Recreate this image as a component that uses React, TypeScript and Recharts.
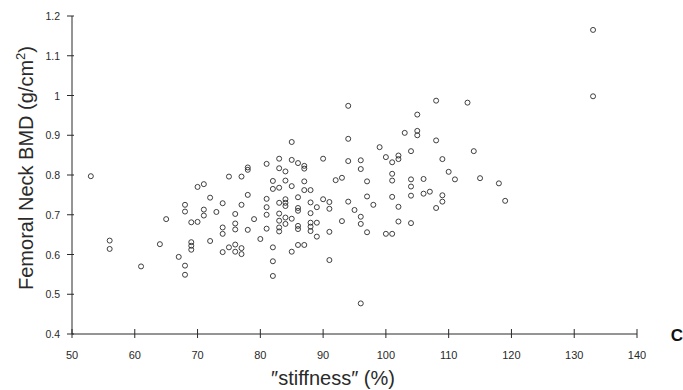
import { Scatter, ScatterChart, XAxis, YAxis } from "recharts";

// stiffness (%) and femoral neck BMD (g/cm2)
const stiffness = [
  53, 56, 56, 61, 64, 65, 67, 68, 68, 68, 68, 69, 69, 69, 69, 70, 71, 70, 71, 71,
  72, 72, 73, 74, 74, 74, 74, 75, 75, 85, 83, 85, 86, 87, 87, 90, 81, 78, 78, 83,
  84, 77, 82, 84, 87, 92, 82, 83, 85, 87, 88, 78, 81, 86, 84, 84, 83, 84, 88, 90,
  91, 77, 81, 86, 86, 89, 91, 76, 81, 83, 88, 79, 83, 84, 85, 76, 76, 78, 81, 83,
  83, 84, 86, 86, 88, 88, 88, 89, 89, 91, 80, 76, 76, 77, 77, 82, 86, 87, 85, 91,
  82, 82, 94, 108, 105, 103, 105, 105, 108, 94, 99, 104, 100, 101, 102, 102, 109, 94, 96, 96,
  93, 97, 101, 101, 104, 104, 106, 104, 106, 107, 109, 109, 94, 97, 98, 101, 102, 95, 108, 93,
  96, 96, 102, 104, 97, 100, 101, 96, 113, 114, 110, 111, 115, 118, 119, 133, 133,
];

const bmd = [
  0.797, 0.635, 0.614, 0.57, 0.626, 0.689, 0.594, 0.725, 0.708, 0.572, 0.549, 0.681, 0.631, 0.622, 0.612, 0.77, 0.777, 0.682, 0.713, 0.698,
  0.743, 0.634, 0.707, 0.729, 0.668, 0.652, 0.606, 0.796, 0.618, 0.883, 0.841, 0.838, 0.83, 0.823, 0.816, 0.841, 0.828, 0.819, 0.813, 0.817,
  0.809, 0.796, 0.785, 0.786, 0.784, 0.787, 0.765, 0.768, 0.772, 0.762, 0.762, 0.75, 0.74, 0.744, 0.739, 0.73, 0.73, 0.722, 0.731, 0.739,
  0.732, 0.725, 0.719, 0.717, 0.71, 0.719, 0.715, 0.702, 0.7, 0.703, 0.704, 0.689, 0.685, 0.693, 0.69, 0.678, 0.663, 0.662, 0.665, 0.668,
  0.658, 0.677, 0.672, 0.664, 0.68, 0.67, 0.659, 0.68, 0.645, 0.657, 0.639, 0.625, 0.607, 0.616, 0.601, 0.618, 0.624, 0.624, 0.607, 0.586,
  0.583, 0.546, 0.974, 0.987, 0.952, 0.906, 0.911, 0.9, 0.887, 0.891, 0.87, 0.86, 0.845, 0.832, 0.849, 0.84, 0.84, 0.835, 0.837, 0.815,
  0.793, 0.784, 0.803, 0.786, 0.789, 0.771, 0.79, 0.748, 0.753, 0.758, 0.749, 0.733, 0.733, 0.746, 0.725, 0.745, 0.72, 0.712, 0.717, 0.684,
  0.695, 0.677, 0.683, 0.679, 0.656, 0.652, 0.652, 0.477, 0.982, 0.86, 0.808, 0.789, 0.792, 0.779, 0.735, 1.165, 0.998,
];

const xTicks = [50, 60, 70, 80, 90, 100, 110, 120, 130, 140];
const yTicks = [0.4, 0.5, 0.6, 0.7, 0.8, 0.9, 1, 1.1, 1.2];

const points = stiffness.map((x, i) => ({ x, y: bmd[i] }));

const ink = "#2a2a2a";
const font = "'Liberation Sans', Arial, sans-serif";

const Ring = (props: any) => (
  <circle cx={props.cx} cy={props.cy} r={2.5} fill="none" stroke={ink} strokeWidth={0.9} />
);

const XTick = ({ x, y, payload }: any) => (
  <g>
    <line x1={x} x2={x} y1={y - 5} y2={y + 4} stroke={ink} strokeWidth={1} />
    <text x={x} y={y + 25} textAnchor="middle" fontSize={11} fill={ink} fontFamily={font}>
      {payload.value}
    </text>
  </g>
);

const YTick = ({ x, y, payload }: any) => (
  <g>
    <line x1={x - 5} x2={x + 2} y1={y} y2={y} stroke={ink} strokeWidth={1} />
    <text x={x - 12} y={y + 4} textAnchor="end" fontSize={10.5} fill={ink} fontFamily={font}>
      {payload.value}
    </text>
  </g>
);

export default function App() {
  return (
    <div style={{ position: "absolute", left: 0, top: 0, width: 683, height: 390, background: "#fff" }}>
      <ScatterChart width={683} height={390} margin={{ top: 16, right: 46, bottom: 16, left: 0 }}>
        <XAxis
          type="number"
          dataKey="x"
          domain={[50, 140]}
          ticks={xTicks}
          height={40}
          tickSize={0}
          tickMargin={0}
          tickLine={false}
          tick={XTick}
          axisLine={{ stroke: ink }}
          allowDataOverflow
        />
        <YAxis
          type="number"
          dataKey="y"
          domain={[0.4, 1.2]}
          ticks={yTicks}
          width={72}
          tickSize={0}
          tickMargin={0}
          tickLine={false}
          tick={YTick}
          axisLine={{ stroke: ink }}
          allowDataOverflow
        />
        <Scatter data={points} shape={Ring} isAnimationActive={false} />
      </ScatterChart>
      <svg
        width={683}
        height={390}
        style={{ position: "absolute", left: 0, top: 0, pointerEvents: "none" }}
      >
        <text
          transform="translate(33,168) rotate(-90)"
          textAnchor="middle"
          fontSize={20}
          fill={ink}
          fontFamily={font}
        >
          Femoral Neck BMD (g/cm
          <tspan dy={-8} fontSize={13}>2</tspan>
          <tspan dy={8}>)</tspan>
        </text>
        <text x={333} y={385} textAnchor="middle" fontSize={20} fill={ink} fontFamily={font}>
          ″stiffness″ (%)
        </text>
        <text x={677} y={341} textAnchor="middle" fontSize={17} fontWeight="bold" fill="#111" fontFamily={font}>
          C
        </text>
      </svg>
    </div>
  );
}
